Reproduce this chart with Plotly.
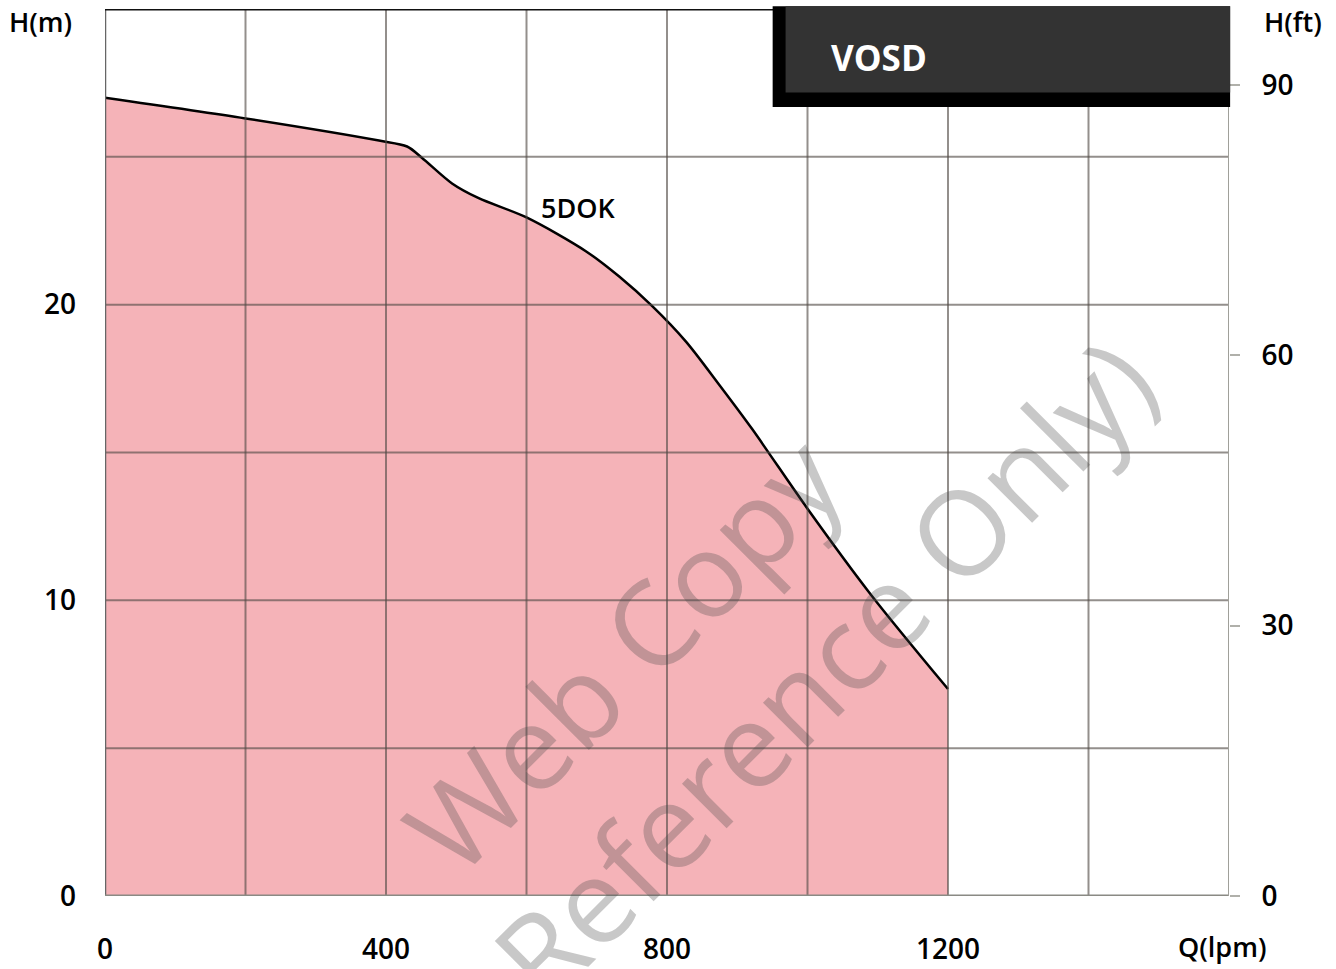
import plotly.graph_objects as go

# ---- data ----
flow_lpm = [0, 200, 390, 430, 451, 494, 532, 600, 685, 732, 779, 827, 874, 921, 1000, 1090, 1200]
head_m = [27.0, 26.3, 25.55, 25.35, 24.97, 24.1, 23.6, 22.95, 21.8, 20.95, 19.95, 18.75, 17.3, 15.8, 13.1, 10.2, 7.0]
curve_name = "5DOK"
model_name = "VOSD"

x_ticks = [0, 400, 800, 1200]
y_ticks_m = [0, 10, 20]
y_ticks_ft = [0, 30, 60, 90]
grid_q = [200, 400, 600, 800, 1000, 1200, 1400]
grid_h = [5, 10, 15, 20, 25]

X_MAX = 1600
Y_MAX = 30
FT_PER_M = 1 / 0.3048

FONT = "Open Sans"

fig = go.Figure()

fig.add_trace(go.Scatter(
    x=flow_lpm, y=head_m, mode="lines",
    line=dict(color="black", width=2.5, shape="spline", smoothing=0.85),
    fill="tozeroy", fillcolor="#f5b3b8",
    hoverinfo="x+y", showlegend=False,
))
# invisible trace on the ft axis so it renders
fig.add_trace(go.Scatter(x=[0], y=[0], yaxis="y2", mode="markers",
                         marker=dict(opacity=0), showlegend=False, hoverinfo="skip"))

shapes = []
for q in grid_q:
    shapes.append(dict(type="line", xref="x", yref="y", x0=q, x1=q, y0=0, y1=Y_MAX,
                       line=dict(color="rgba(80,75,70,0.62)", width=2), layer="above"))
for h in grid_h:
    shapes.append(dict(type="line", xref="x", yref="y", x0=0, x1=X_MAX, y0=h, y1=h,
                       line=dict(color="rgba(80,75,70,0.62)", width=2), layer="above"))
# frame
shapes += [
    dict(type="line", xref="x", yref="y", x0=0, x1=0, y0=0, y1=Y_MAX,
         line=dict(color="#666", width=2.5), layer="above"),
    dict(type="line", xref="x", yref="y", x0=0, x1=X_MAX, y0=0, y1=0,
         line=dict(color="#8a8a84", width=3), layer="above"),
    dict(type="line", xref="x", yref="y", x0=X_MAX, x1=X_MAX, y0=0, y1=Y_MAX,
         line=dict(color="#a0a09a", width=2), layer="above"),
    dict(type="line", xref="x", yref="y", x0=0, x1=X_MAX, y0=Y_MAX, y1=Y_MAX,
         line=dict(color="#111", width=3), layer="above"),
]
# model box
shapes += [
    dict(type="rect", xref="paper", yref="paper", x0=0.594, x1=1.001, y0=0.8895, y1=1.003,
         fillcolor="black", line=dict(width=0), layer="above"),
    dict(type="rect", xref="paper", yref="paper", x0=0.6055, x1=1.001, y0=0.906, y1=1.003,
         fillcolor="#333333", line=dict(width=0), layer="above"),
]

def px_x(p):
    return (p - 105) / 1124

def px_y(p):
    return (896 - p) / 887

annotations = [
    dict(text=model_name, xref="paper", yref="paper", x=px_x(829), y=px_y(57),
         xanchor="left", yanchor="middle", showarrow=False,
         font=dict(family=FONT, size=35, color="white", weight="bold")),
    dict(text=curve_name, xref="x", yref="y", x=674, y=23.3, showarrow=False,
         font=dict(family=FONT, size=27, color="black", weight=600)),
    dict(text="H(m)", xref="paper", yref="paper", x=px_x(40), y=px_y(21),
         xanchor="center", yanchor="middle", showarrow=False,
         font=dict(family=FONT, size=27, color="black", weight=600)),
    dict(text="H(ft)", xref="paper", yref="paper", x=px_x(1293), y=px_y(22),
         xanchor="center", yanchor="middle", showarrow=False,
         font=dict(family=FONT, size=27, color="black", weight=600)),
    dict(text="Q(lpm)", xref="paper", yref="paper", x=px_x(1222), y=px_y(946),
         xanchor="center", yanchor="middle", showarrow=False,
         font=dict(family=FONT, size=27, color="black", weight=600)),
    # watermark
    dict(text="Web Copy", xref="paper", yref="paper", x=px_x(622), y=px_y(652),
         xanchor="center", yanchor="middle", showarrow=False, textangle=-45,
         font=dict(family=FONT, size=118, color="rgba(72,72,72,0.3)")),
    dict(text="Reference Only)", xref="paper", yref="paper", x=px_x(822), y=px_y(668),
         xanchor="center", yanchor="middle", showarrow=False, textangle=-45,
         font=dict(family=FONT, size=118, color="rgba(72,72,72,0.3)")),
]

tickfont = dict(family=FONT, size=28, color="black", weight=600)

fig.update_layout(
    width=1336, height=969,
    margin=dict(l=105, r=107, t=9, b=73, autoexpand=False),
    paper_bgcolor="white", plot_bgcolor="white",
    showlegend=False,
    xaxis=dict(range=[0, X_MAX], tickvals=x_ticks, showgrid=False, zeroline=False,
               showline=False, ticks="", tickfont=tickfont, ticklabelstandoff=34,
               fixedrange=True, automargin=False),
    yaxis=dict(range=[0, Y_MAX], tickvals=y_ticks_m, showgrid=False, zeroline=False,
               showline=False, ticks="", tickfont=tickfont, ticklabelstandoff=28,
               fixedrange=True, automargin=False),
    yaxis2=dict(range=[0, Y_MAX * FT_PER_M], tickvals=y_ticks_ft, overlaying="y",
                side="right", showgrid=False, zeroline=False, showline=False,
                ticks="outside", ticklen=10, tickcolor="#b0b0aa", tickwidth=2,
                tickfont=tickfont, ticklabelstandoff=16, fixedrange=True,
                automargin=False),
    shapes=shapes,
    annotations=annotations,
)

fig.write_html("out.html", config={"displayModeBar": False},
               post_script="document.body.style.margin='0';")
